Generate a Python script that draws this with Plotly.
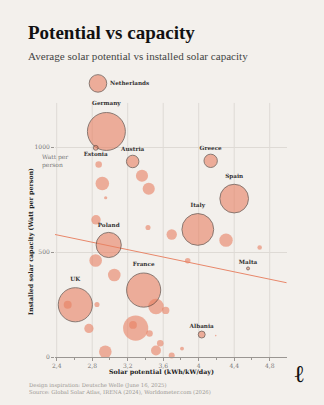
import plotly.graph_objects as go
import numpy as np

# ---- data ----
lab_names = ["Germany", "Netherlands", "Estonia", "Austria", "Greece", "Spain",
             "Italy", "Poland", "UK", "France", "Malta", "Albania"]
lab_potential = [2.96, 2.865, 2.84, 3.256, 4.135, 4.40, 3.99, 2.986, 2.61, 3.38, 4.556, 4.034]
lab_capacity = [1075, 1304, 997, 932, 935, 755, 608, 534, 249, 319, 422, 107]
lab_population = [84, 18, 1.37, 9.1, 10.4, 48, 59, 37, 68, 68, 0.53, 2.8]
lab_textpos = ["top center", "middle right", "bottom center", "top center", "top center",
               "top center", "top center", "top center", "top center", "top center",
               "top center", "top center"]

oth_potential = [2.873, 2.914, 2.952, 2.843, 3.429, 3.361, 3.437, 3.696, 3.876, 4.308,
                 4.687, 2.839, 3.049, 2.854, 2.524, 2.763, 2.948, 3.29, 3.26, 3.446,
                 3.519, 3.628, 3.567, 3.519, 3.696, 3.812, 4.192]
oth_capacity = [918, 827, 759, 654, 617, 864, 802, 584, 459, 557,
                522, 460, 391, 250, 249, 136, 25, 138, 153, 112,
                241, 222, 66, 31, 7, 40, 102]
oth_population = [2.5, 10.8, 0.6, 5.2, 1.5, 8.6, 8.6, 6.3, 1.8, 10.5,
                  1.2, 9.3, 9.3, 1.5, 3.7, 5.0, 9.3, 37, 3.5, 2.5,
                  14, 3.2, 2.5, 5.8, 2.1, 0.9, 0.15]

trend_x = [2.38, 4.99]
trend_y = [584, 354]

x_ticks = [2.4, 2.8, 3.2, 3.6, 4.0, 4.4, 4.8]
x_ticktext = ["2,4", "2,8", "3,2", "3,6", "4", "4,4", "4,8"]
y_ticks = [0, 500, 1000]
y_ticktext = ["0", "500", "1000"]
grid_top = 1211

title = "Potential vs capacity"
subtitle = "Average solar potential vs installed solar capacity"
x_title = "Solar potential (kWh/kW/day)"
y_title = "Installed solar capacity (Watt per person)"
source_lines = ["Design inspiration: Deutsche Welle (June 16, 2025)",
                "Source: Global Solar Atlas, IRENA (2024), Worldometer.com (2026)"]

# ---- style ----
W, H = 324, 405
ML, MR, MT, MB = 55, 37, 70, 48
BG = "#f3f0ec"
FILL = "rgba(232,128,98,0.86)"
EDGE = "#4d3a33"
SERIF = "DejaVu Serif"
TSERIF = "Liberation Serif"
GRID = "#dedad5"
K = 2.07  # px radius per sqrt(million people)

def diam(pop):
    return list(2 * K * np.sqrt(np.array(pop, dtype=float)))

pw, ph = W - ML - MR, H - MT - MB
def px(x):
    return (x - ML) / pw
def py(y):
    return (H - MB - y) / ph

fig = go.Figure()

shapes = [dict(type="line", xref="x", yref="y", x0=v, x1=v, y0=0, y1=grid_top,
               line=dict(color=GRID, width=1), layer="below") for v in x_ticks]

fig.add_trace(go.Scatter(
    x=trend_x, y=trend_y, mode="lines",
    line=dict(color="#e8876a", width=1), hoverinfo="skip", cliponaxis=False))

fig.add_trace(go.Scatter(
    x=oth_potential, y=oth_capacity, mode="markers",
    marker=dict(size=diam(oth_population), sizemode="diameter", color=FILL,
                line=dict(width=0)),
    cliponaxis=False))

fig.add_trace(go.Scatter(
    x=lab_potential, y=lab_capacity, mode="markers+text",
    text=lab_names, textposition=lab_textpos,
    textfont=dict(family=SERIF, size=5.7, color="#333333", weight="bold"),
    marker=dict(size=diam(lab_population), sizemode="diameter", color=FILL,
                line=dict(width=0.9, color=EDGE)),
    cliponaxis=False))

ann = []
ann.append(dict(text=title, x=px(26), y=py(45), xref="paper", yref="paper",
                xanchor="left", yanchor="bottom", showarrow=False,
                font=dict(family=TSERIF, size=19, color="#111111", weight="bold")))
ann.append(dict(text=subtitle, x=px(26), y=py(64), xref="paper", yref="paper",
                xanchor="left", yanchor="bottom", showarrow=False,
                font=dict(family=TSERIF, size=11.1, color="#444444")))
ann.append(dict(text="Watt per<br>person", x=px(40), y=py(151), xref="paper", yref="paper",
                xanchor="left", yanchor="top", showarrow=False, align="left",
                font=dict(family=SERIF, size=6, color="#777777")))
ann.append(dict(text=x_title, x=px(161.5), y=py(372), xref="paper", yref="paper",
                xanchor="center", yanchor="middle", showarrow=False,
                font=dict(family=SERIF, size=6.3, color="#222222", weight="bold")))
ann.append(dict(text=y_title, x=px(31), y=py(242), xref="paper", yref="paper",
                xanchor="center", yanchor="middle", showarrow=False, textangle=-90,
                font=dict(family=SERIF, size=6.3, color="#222222", weight="bold")))
ann.append(dict(text="<br>".join(source_lines), x=px(27), y=py(380), xref="paper", yref="paper",
                xanchor="left", yanchor="top", showarrow=False, align="left",
                font=dict(family=SERIF, size=5.3, color="#9a9692")))
ann.append(dict(text="ℓ", x=px(299), y=py(373), xref="paper", yref="paper",
                xanchor="center", yanchor="middle", showarrow=False,
                font=dict(family=SERIF, size=24, color="#111111", weight="bold")))

fig.update_layout(
    width=W, height=H, margin=dict(l=ML, r=MR, t=MT, b=MB),
    paper_bgcolor=BG, plot_bgcolor=BG, showlegend=False,
    annotations=ann, shapes=shapes,
    xaxis=dict(range=[2.381, 4.995], tickmode="array", tickvals=x_ticks, ticktext=x_ticktext,
               showgrid=False, zeroline=False,
               showline=True, linecolor="#9a9692", linewidth=1,
               ticks="outside", ticklen=3, tickcolor="#9a9692",
               tickfont=dict(family=SERIF, size=6, color="#777777"),
               minor=dict(tickmode="linear", tick0=2.4, dtick=0.2, ticks="outside",
                          ticklen=2, tickcolor="#9a9692", showgrid=False)),
    yaxis=dict(range=[0, ph / 0.2098], tickmode="array", tickvals=y_ticks, ticktext=y_ticktext,
               showgrid=True, gridcolor=GRID, gridwidth=1, zeroline=False,
               showline=False, ticks="outside", ticklen=3, tickcolor="#9a9692",
               tickfont=dict(family=SERIF, size=6, color="#777777")),
)

fig.write_html("out.html")
